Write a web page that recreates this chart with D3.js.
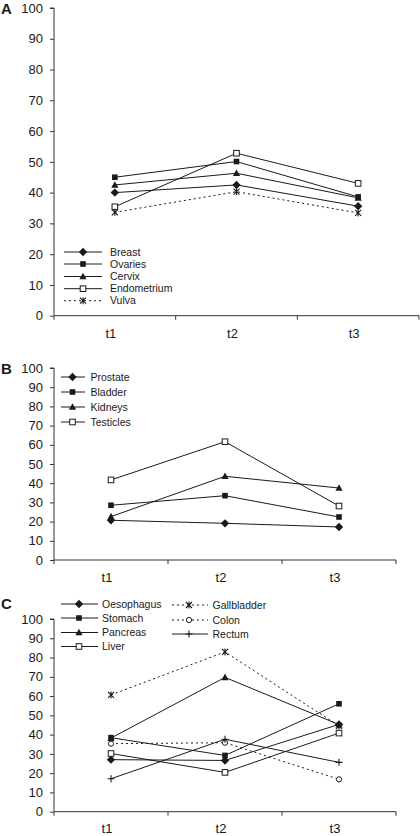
<!DOCTYPE html>
<html>
<head>
<meta charset="utf-8">
<script src="https://cdn.jsdelivr.net/npm/d3@7"></script>
<style>
  html, body { margin: 0; padding: 0; background: #fff; }
  svg { display: block; }
  text { font-family: "Liberation Sans", Arial, sans-serif; fill: #1a1a1a; }
</style>
</head>
<body>
<svg id="chart" width="420" height="836"></svg>
<script>
// ---------- data ----------
const timepoints = ["t1", "t2", "t3"];
const yTicks = [0, 10, 20, 30, 40, 50, 60, 70, 80, 90, 100];

// Panel A
const breast      = [40.0, 42.5, 35.6];
const ovaries     = [45.0, 50.1, 38.6];
const cervix      = [42.5, 46.3, 38.3];
const endometrium = [35.4, 52.8, 43.0];
const vulva       = [33.6, 40.3, 33.4];

// Panel B
const prostate  = [20.7, 19.1, 17.2];
const bladder   = [28.5, 33.5, 22.4];
const kidneys   = [22.6, 43.6, 37.5];
const testicles = [41.7, 61.6, 28.1];

// Panel C
const oesophagus  = [27.0, 26.6, 45.3];
const stomach     = [38.4, 29.2, 56.0];
const pancreas    = [38.2, 69.7, 45.2];
const liver       = [30.2, 20.4, 40.8];
const gallbladder = [60.6, 82.9, 44.5];
const colon       = [35.3, 35.8, 16.8];
const rectum      = [17.1, 37.6, 25.6];

// ---------- markers ----------
const INK = "#1a1a1a";
function drawMarker(g, type, x, y) {
  const s = g.append("g").attr("transform", `translate(${x},${y})`);
  if (type === "diamond") {
    s.append("path").attr("d", "M0,-4.2L4.2,0L0,4.2L-4.2,0Z").attr("fill", INK);
  } else if (type === "square") {
    s.append("rect").attr("x", -2.8).attr("y", -2.8).attr("width", 5.6).attr("height", 5.6).attr("fill", INK);
  } else if (type === "triangle") {
    s.append("path").attr("d", "M0,-3.8L3.6,2.8L-3.6,2.8Z").attr("fill", INK);
  } else if (type === "open") {
    s.append("rect").attr("x", -2.8).attr("y", -2.8).attr("width", 5.6).attr("height", 5.6)
      .attr("fill", "#fff").attr("stroke", INK).attr("stroke-width", 1);
  } else if (type === "star") {
    s.append("path").attr("d", "M-3,-3L3,3M-3,3L3,-3M0,-3.5L0,3.5")
      .attr("stroke", INK).attr("stroke-width", 1.1).attr("fill", "none");
  } else if (type === "circle") {
    s.append("circle").attr("r", 2.6).attr("fill", "#fff").attr("stroke", INK).attr("stroke-width", 1);
  } else if (type === "plus") {
    s.append("path").attr("d", "M-3.5,0L3.5,0M0,-3.5L0,3.5")
      .attr("stroke", INK).attr("stroke-width", 1.1).attr("fill", "none");
  }
}

const svg = d3.select("#chart");

function panel(cfg) {
  const x = d3.scaleBand().domain(timepoints).range([cfg.x0, cfg.x1]);
  const y = d3.scaleLinear().domain([0, 100]).range([cfg.yBottom, cfg.yTop]);
  const g = svg.append("g");

  // y axis
  const ya = g.append("g").attr("transform", `translate(${cfg.x0},0)`)
    .call(d3.axisLeft(y).tickValues(yTicks).tickSize(4).tickPadding(7));
  ya.select(".domain").attr("stroke", "#333").attr("d", `M-4,${y(100)}H0V${y(0)}`);
  ya.selectAll(".tick line").attr("stroke", "#333");
  ya.selectAll(".tick text").attr("font-size", 13).attr("font-family", "Liberation Sans, Arial, sans-serif").attr("fill", INK);

  // x axis (ticks at band boundaries)
  const xg = g.append("g");
  xg.append("path").attr("d", `M${cfg.x0},${y(0)}H${cfg.x1}`).attr("stroke", "#333").attr("fill", "none");
  const bounds = timepoints.map(d => x(d)).concat([x.range()[1]]);
  xg.selectAll("line.tk").data(bounds).join("line")
    .attr("x1", d => d).attr("x2", d => d)
    .attr("y1", y(0)).attr("y2", y(0) + 4).attr("stroke", "#333");
  xg.selectAll("text").data(timepoints).join("text")
    .attr("x", d => x(d) + x.bandwidth() / 2 - 4)
    .attr("y", cfg.labelY)
    .attr("text-anchor", "middle").attr("font-size", 13).text(d => d);

  // panel letter
  g.append("text").attr("x", 1).attr("y", cfg.letterY).attr("font-size", 15)
    .attr("font-weight", "bold").text(cfg.letter);

  const cx = d => x(d) + x.bandwidth() / 2;
  const line = d3.line().x((v, i) => cx(timepoints[i])).y(v => y(v));

  cfg.series.forEach(s => {
    g.append("path").datum(s.values).attr("d", line).attr("fill", "none")
      .attr("stroke", INK).attr("stroke-width", 1)
      .attr("stroke-dasharray", s.dotted ? "2,3" : null);
  });
  cfg.series.forEach(s => {
    s.values.forEach((v, i) => drawMarker(g, s.marker, cx(timepoints[i]), y(v)));
  });

  // legend
  cfg.series.forEach(s => {
    const L = s.leg;
    g.append("line").attr("x1", L.lx0).attr("x2", L.lx1).attr("y1", L.y).attr("y2", L.y)
      .attr("stroke", INK).attr("stroke-width", 1)
      .attr("stroke-dasharray", s.dotted ? "2,3" : null);
    drawMarker(g, s.marker, L.mx, L.y);
    g.append("text").attr("x", L.tx).attr("y", L.y).attr("dy", "0.35em")
      .attr("font-size", 10.5).text(s.name);
  });
}

// Panel A
const legA = (y) => ({ lx0: 64, lx1: 102, mx: 83, tx: 110, y });
panel({
  letter: "A", letterY: 14, x0: 54, x1: 419, yTop: 8, yBottom: 315.7, labelY: 338,
  series: [
    { name: "Breast", values: breast, marker: "diamond", leg: legA(252) },
    { name: "Ovaries", values: ovaries, marker: "square", leg: legA(264) },
    { name: "Cervix", values: cervix, marker: "triangle", leg: legA(276.5) },
    { name: "Endometrium", values: endometrium, marker: "open", leg: legA(288.7) },
    { name: "Vulva", values: vulva, marker: "star", dotted: true, leg: legA(300.7) }
  ]
});

// Panel B
const legB = (y) => ({ lx0: 61, lx1: 85, mx: 72.5, tx: 90.5, y });
panel({
  letter: "B", letterY: 374, x0: 54, x1: 396, yTop: 368, yBottom: 560, labelY: 582,
  series: [
    { name: "Prostate", values: prostate, marker: "diamond", leg: legB(377) },
    { name: "Bladder", values: bladder, marker: "square", leg: legB(392) },
    { name: "Kidneys", values: kidneys, marker: "triangle", leg: legB(407) },
    { name: "Testicles", values: testicles, marker: "open", leg: legB(422) }
  ]
});

// Panel C
const legC1 = (y) => ({ lx0: 61, lx1: 98, mx: 79, tx: 102, y });
const legC2 = (y) => ({ lx0: 172, lx1: 208, mx: 189, tx: 212.5, y });
panel({
  letter: "C", letterY: 609, x0: 54, x1: 396, yTop: 619, yBottom: 811.7, labelY: 833,
  series: [
    { name: "Oesophagus", values: oesophagus, marker: "diamond", leg: legC1(604) },
    { name: "Stomach", values: stomach, marker: "square", leg: legC1(618) },
    { name: "Pancreas", values: pancreas, marker: "triangle", leg: legC1(632.5) },
    { name: "Liver", values: liver, marker: "open", leg: legC1(646.5) },
    { name: "Gallbladder", values: gallbladder, marker: "star", dotted: true, leg: legC2(605) },
    { name: "Colon", values: colon, marker: "circle", dotted: true, leg: legC2(620) },
    { name: "Rectum", values: rectum, marker: "plus", leg: legC2(634) }
  ]
});
</script>
</body>
</html>
